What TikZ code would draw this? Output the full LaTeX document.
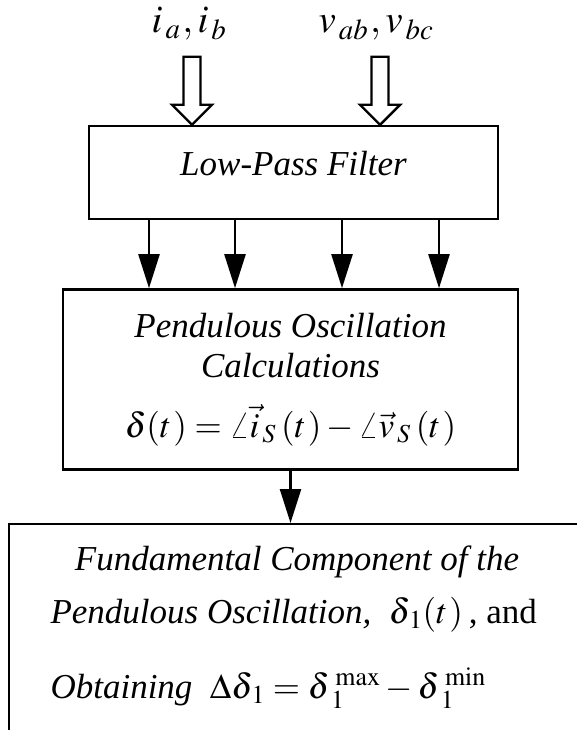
\documentclass[tikz,border=0pt]{standalone}
\usepackage{mathptmx}
\usepackage[no-math]{fontspec}
\setmainfont{Liberation Serif}
\usepackage{amsmath}
\usetikzlibrary{positioning, arrows.meta, calc}

\begin{document}
\begin{tikzpicture}[x=1pt, y=1pt, >={Triangle[length=34pt, width=21pt]}, line width=2.4pt, font=\fontsize{35}{40}\selectfont]

  \useasboundingbox (0,0) rectangle (576,-730);

  % --- Low-Pass Filter block ---
  \node [draw, rectangle, minimum width=409pt, minimum height=93pt, text depth=18pt, font=\fontsize{35}{40}\selectfont\itshape] (lpf) at (293.5,-172.5) {Low-Pass Filter};

  % --- Inputs (top, hollow arrows) ---
  \node [anchor=base, font=\fontsize{39}{44}\selectfont] (iab) at (189,-33) {$i_{\hspace{3pt}a}\hspace{2pt},i_{\hspace{3pt}b}$};
  \node [anchor=base, font=\fontsize{39}{44}\selectfont] (vab) at (376,-33) {$v_{\hspace{3pt}ab}\hspace{2pt},v_{\hspace{3pt}bc}$};

  \coordinate (itip) at ([xshift=-101.5pt]lpf.north);
  \coordinate (vtip) at ([xshift=86.5pt]lpf.north);
  \draw (itip) -- ++(-20,20) -- ++(11.5,0) -- ++(0,48) -- ++(17,0) -- ++(0,-48) -- ++(11.5,0) -- cycle;
  \draw (vtip) -- ++(-20,20) -- ++(11.5,0) -- ++(0,48) -- ++(17,0) -- ++(0,-48) -- ++(11.5,0) -- cycle;

  % --- Pendulous Oscillation block ---
  \node [draw, rectangle, minimum width=455pt, minimum height=180pt, align=center, below=68pt of lpf, xshift=-3pt, font=\fontsize{35}{40}\selectfont\itshape] (po) {
    Pendulous Oscillation \\ Calculations \\[20pt]
    $\delta(t\hspace{2pt}) = \angle\vec{i}_{\hspace{3pt}S}\hspace{5pt}(t\hspace{2pt}) - \angle\vec{v}_{\hspace{3pt}S}\hspace{5pt}(t\hspace{2pt})$
  };

  % four filtered signals
  \draw [->] ([xshift=-144.5pt]lpf.south) -- ([xshift=-144.5pt]lpf.south |- po.north);
  \draw [->] ([xshift=-58.5pt]lpf.south) -- ([xshift=-58.5pt]lpf.south |- po.north);
  \draw [->] ([xshift=48.5pt]lpf.south) -- ([xshift=48.5pt]lpf.south |- po.north);
  \draw [->] ([xshift=145.5pt]lpf.south) -- ([xshift=145.5pt]lpf.south |- po.north);

  % --- Fundamental component block (runs off the page) ---
  \node [draw, rectangle, minimum width=640pt, minimum height=260pt, anchor=north west] (fund) at (8,-523) {};
  \draw [->] (po.south) -- (po.south |- fund.north);

  \node [anchor=base, font=\fontsize{35}{40}\selectfont\itshape] (fundA) at (297,-570) {Fundamental Component of the};
  \node [anchor=base west] (fundB) at (46,-623) {{\itshape Pendulous Oscillation,}\enspace $\delta_{\hspace{3pt}1}(t\hspace{2pt})$\,, and};
  \node [anchor=base west] (fundC) at (46,-698) {{\itshape Obtaining}\enspace $\Delta\delta_{\hspace{3pt}1} = \delta_{\hspace{6pt}1}^{\hspace{6pt}\mathrm{max}} - \delta_{\hspace{6pt}1}^{\hspace{6pt}\mathrm{min}}$};

\end{tikzpicture}
\end{document}
